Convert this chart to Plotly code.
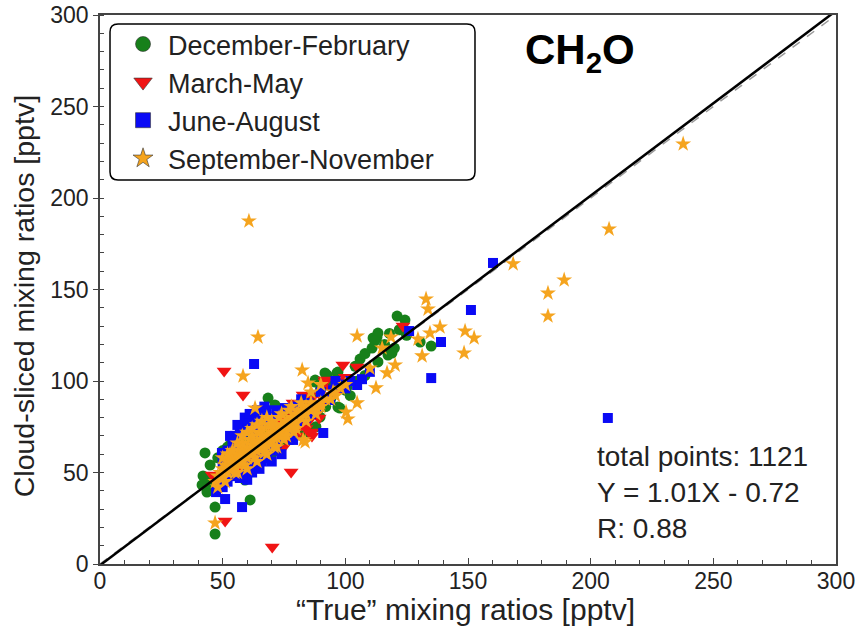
import plotly.graph_objects as go

# ---------------- data (pptv) ----------------
djf_x = [42.8, 44.9, 42.0, 41.6, 43.6, 46.9, 46.9, 61.2, 59.1, 53.0, 66.0, 81.5, 72.6, 68.5, 71.3,
         87.7, 91.7, 97.0, 100.0, 97.8, 112.9, 110.9, 113.3, 119.0, 121.1, 124.3, 111.3, 113.3,
         117.4, 130.5, 135.0, 92.5, 96.6, 100.7, 97.0, 89.7, 87.7,
         45, 44, 47, 50, 55, 58, 62, 64, 75, 80, 85, 90, 93, 95, 105, 108, 102, 88, 85, 78, 75,
         70, 120, 125, 112,
         48, 50, 52, 56, 60, 63, 66, 68, 72, 76, 82, 86, 90, 84, 80, 104, 106, 108, 116, 118, 122,
         94, 92]
djf_y = [60.7, 54.1, 48.1, 43.2, 39.3, 31.1, 16.4, 35.0, 45.9, 65.0, 77.0, 70.5, 62.3, 90.7, 86.9,
         99.4, 104.4, 104.9, 95.0, 85.2, 124.0, 118.0, 110.4, 115.3, 135.5, 133.3, 123.5, 126.2,
         114.2, 121.3, 119.1, 103.3, 104.4, 96.7, 85.8, 80.3, 100.5,
         46, 44, 42, 58, 62, 68, 74, 76, 80, 85, 90, 95, 98, 100, 100, 103, 92, 75, 72, 68, 66,
         60, 118, 125, 122,
         58, 62, 64, 68, 72, 70, 72, 76, 80, 84, 88, 92, 96, 76, 72, 108, 112, 115, 120, 126, 128,
         90, 86]

mam_x = [70.2, 77.9, 58.3, 51.0, 50.6, 99.0, 104.8, 91.7, 82.8, 78.7, 86.4, 89.3, 91.7, 69.3, 65.2,
         74.6, 86.4, 82.8, 45.7, 123.5,
         75, 78, 80, 84, 88, 90, 85, 82, 72, 76, 94, 96, 60, 62, 56, 66, 70, 88, 92, 80,
         64, 68, 72, 76, 80, 84, 78, 86, 94, 98, 100, 90, 74, 70]
mam_y = [9.3, 50.3, 92.3, 23.5, 105.5, 108.7, 107.6, 99.4, 92.3, 88.0, 70.0, 79.8, 100.5, 62.3, 56.8,
         63.4, 72.1, 88.0, 48.6, 130.0,
         78, 80, 82, 84, 86, 88, 78, 76, 70, 72, 92, 94, 58, 60, 52, 66, 74, 82, 90, 74,
         58, 64, 66, 68, 70, 74, 84, 90, 96, 100, 102, 92, 78, 68]

jja_x = [207.0, 160.2, 151.2, 139.0, 135.0, 126.0, 62.8, 57.9, 51.0, 47.3, 49.7, 75.4, 59.1, 49.7,
         53.0, 78.7, 91.0, 110.0, 106.8, 104.8, 93.8, 80.3,
         55, 57, 60, 62, 64, 66, 68, 52, 54, 56, 58, 60, 62, 64, 66, 70, 72, 74, 76, 84, 86, 88,
         70, 72, 82, 85, 98, 100, 102, 55, 50, 52,
         50, 52, 54, 58, 63, 65, 68, 60, 64, 57, 60, 66, 68, 78, 80, 90, 95, 96,
         53, 56, 59, 61, 64, 67, 58, 62, 65, 70, 74]
jja_y = [79.8, 164.5, 138.8, 121.3, 101.6, 127.3, 109.3, 31.1, 35.5, 39.3, 44.8, 85.2, 77.0, 60.7,
         51.4, 67.8, 71.6, 105.0, 101.0, 97.8, 89.6, 77.6,
         70, 73, 75, 76, 74, 80, 78, 56, 60, 64, 58, 50, 55, 57, 60, 62, 66, 70, 73, 80, 82, 85,
         80, 84, 90, 88, 98, 96, 100, 48, 42, 45,
         55, 62, 66, 72, 80, 82, 84, 64, 70, 47, 46, 56, 58, 76, 86, 94, 95, 100,
         70, 76, 80, 82, 84, 86, 48, 50, 52, 56, 60]

son_x = [60.7, 237.7, 207.5, 168.4, 189.2, 182.6, 182.6, 148.8, 152.5, 148.4, 132.9, 133.7, 138.6,
         134.5, 129.6, 131.3, 118.6, 117.0, 120.3, 64.4, 104.8, 58.3, 82.4, 112.5, 104.8, 101.0,
         100.3, 84.8, 82.8, 46.9, 63.2, 83.6,
         47, 48, 49, 50, 50, 51, 52, 52, 53, 54, 54, 55, 55, 56, 56, 57, 58, 58, 59, 60, 60, 61,
         62, 62, 63, 64, 64, 65, 66, 66, 67, 68, 68, 69, 70, 70, 71, 72, 72, 73, 74, 74, 75, 76,
         76, 77, 78, 78, 79, 80, 80, 82, 82, 84, 84, 86, 86, 88, 90, 92, 95, 98, 53, 57, 61, 65,
         69, 73, 77, 55, 59, 63, 67, 71, 75, 79, 48, 51, 58, 62, 66, 70, 110, 115,
         50, 52, 54, 56, 58, 60, 62, 64, 66, 68, 56, 60, 64, 68, 72, 76, 80, 84, 88, 90, 94, 96,
         100, 86, 90, 82, 78, 74, 70, 66]
son_y = [187.4, 229.5, 183.0, 164.0, 155.2, 148.0, 135.5, 127.3, 123.5, 115.3, 144.8, 139.3, 129.5,
         126.2, 122.9, 113.7, 124.0, 104.4, 108.7, 124.0, 124.6, 102.7, 106.0, 96.2, 88.0, 79.2,
         83.0, 98.9, 67.8, 22.4, 85.2, 66.7,
         45, 48, 50, 47, 52, 54, 50, 56, 53, 55, 58, 52, 57, 60, 55, 58, 62, 56, 60, 63, 58, 61,
         65, 60, 63, 67, 62, 65, 68, 63, 66, 70, 65, 68, 72, 67, 70, 74, 69, 72, 76, 71, 74, 78,
         73, 76, 80, 75, 78, 82, 77, 80, 84, 82, 86, 84, 88, 86, 88, 90, 94, 96, 60, 64, 68, 72,
         76, 80, 84, 50, 54, 58, 61, 64, 68, 72, 42, 45, 66, 70, 74, 78, 107, 118,
         58, 60, 62, 66, 70, 72, 74, 76, 78, 80, 50, 52, 56, 60, 64, 70, 74, 78, 82, 86, 90, 92,
         98, 94, 98, 88, 86, 82, 76, 70]

series_names = ["December-February", "March-May", "June-August", "September-November"]
series_colors = ["#17801a", "#f01414", "#0a0af5", "#f5a41e"]
series_symbols = ["circle", "triangle-down", "square", "star"]

fit_slope = 1.01
fit_intercept = -0.72
axis_range = [0, 300]
tick_vals = [0, 50, 100, 150, 200, 250, 300]
stats_lines = ["total points: 1121", "Y = 1.01X - 0.72", "R: 0.88"]
x_title = "\u201cTrue\u201d mixing ratios [pptv]"
y_title = "Cloud-sliced mixing ratios [pptv]"

FONT = "Liberation Sans, Arial, sans-serif"

fig = go.Figure()

# 1:1 line (dashed grey)
fig.add_trace(go.Scatter(x=axis_range, y=axis_range, mode="lines",
                         line=dict(color="#9a9a9a", width=1.5, dash="dash"),
                         showlegend=False, hoverinfo="skip"))

all_x = [djf_x, mam_x, jja_x, son_x]
all_y = [djf_y, mam_y, jja_y, son_y]
sizes = [11, 13, 10, 12]
legend_sizes = [15, 16, 15, 15]
for i in range(4):
    fig.add_trace(go.Scatter(
        x=all_x[i], y=all_y[i], mode="markers", name=series_names[i],
        showlegend=False,
        marker=dict(color=series_colors[i], symbol=series_symbols[i], size=sizes[i],
                    line=dict(width=0))))
# legend-only entries (bigger symbols with thin dark outline)
for i in range(4):
    fig.add_trace(go.Scatter(
        x=[None], y=[None], mode="markers", name=series_names[i], legendgroup=str(i),
        marker=dict(color=series_colors[i], symbol=series_symbols[i], size=legend_sizes[i],
                    line=dict(width=0.6, color="#333"))))

fit_x = axis_range
fit_y = [fit_slope * v + fit_intercept for v in fit_x]
fig.add_trace(go.Scatter(x=fit_x, y=fit_y, mode="lines",
                         line=dict(color="black", width=2.5),
                         showlegend=False, hoverinfo="skip"))

axis_common = dict(
    range=axis_range, tickvals=tick_vals, tickwidth=1.2,
    tickcolor="#444", showline=True, linecolor="#444", linewidth=1.5, mirror=True,
    showgrid=False, zeroline=False, automargin=False, ticklabeloverflow="allow",
    tickfont=dict(family=FONT, size=23, color="#222"),
)
fig.update_xaxes(**axis_common, ticks="inside", ticklen=6, ticklabelstandoff=-4,
                 minor=dict(ticks="inside", ticklen=4, tickcolor="#444", dtick=10,
                            showgrid=False))
fig.update_yaxes(**axis_common, ticks="outside", ticklen=5,
                 minor=dict(ticks="inside", ticklen=4, tickcolor="#444", dtick=10,
                            showgrid=False))

annotations = [
    dict(xref="paper", yref="paper", x=0.497, y=-0.082, xanchor="center", yanchor="middle",
         showarrow=False, text=x_title, font=dict(family=FONT, size=30, color="#222")),
    dict(xref="paper", yref="paper", x=-0.103, y=0.488, xanchor="center", yanchor="middle",
         showarrow=False, text=y_title, textangle=-90,
         font=dict(family=FONT, size=28.5, color="#222")),
    dict(xref="paper", yref="paper", x=0.652, y=0.932, xanchor="center",
         yanchor="middle", showarrow=False, text="<b>CH<sub>2</sub>O</b>",
         font=dict(family=FONT, size=42, color="black")),
]
for k, line in enumerate(stats_lines):
    annotations.append(dict(xref="paper", yref="paper", x=0.672, y=0.1967 - k * 0.0656,
                            xanchor="left", yanchor="middle", showarrow=False, text=line,
                            font=dict(family=FONT, size=28, color="#222")))

fig.update_layout(
    width=859, height=628,
    margin=dict(l=100, r=23, t=15, b=64),
    paper_bgcolor="white", plot_bgcolor="white",
    font=dict(family=FONT, color="#222"),
    showlegend=True,
    legend=dict(x=0.0245, y=0.991, xanchor="left", yanchor="top",
                bgcolor="rgba(255,255,255,0)", borderwidth=0,
                font=dict(family=FONT, size=27, color="#222"),
                tracegroupgap=0, itemsizing="trace", itemwidth=40),
    annotations=annotations,
    shapes=[dict(type="path", xref="paper", yref="paper", layer="above",
                 path="M 0.0136,0.969 Q 0.0136,0.9836 0.0245,0.9836 L 0.4986,0.9836 "
                      "Q 0.5095,0.9836 0.5095,0.969 L 0.5095,0.7141 Q 0.5095,0.6995 0.4986,0.6995 "
                      "L 0.0245,0.6995 Q 0.0136,0.6995 0.0136,0.7141 Z",
                 line=dict(color="black", width=1.5))],
)

# remove the default page margin so the 859x628 figure fills the window exactly
fig.write_html("out.html", config={"displayModeBar": False},
               post_script="document.body.style.margin='0';")
